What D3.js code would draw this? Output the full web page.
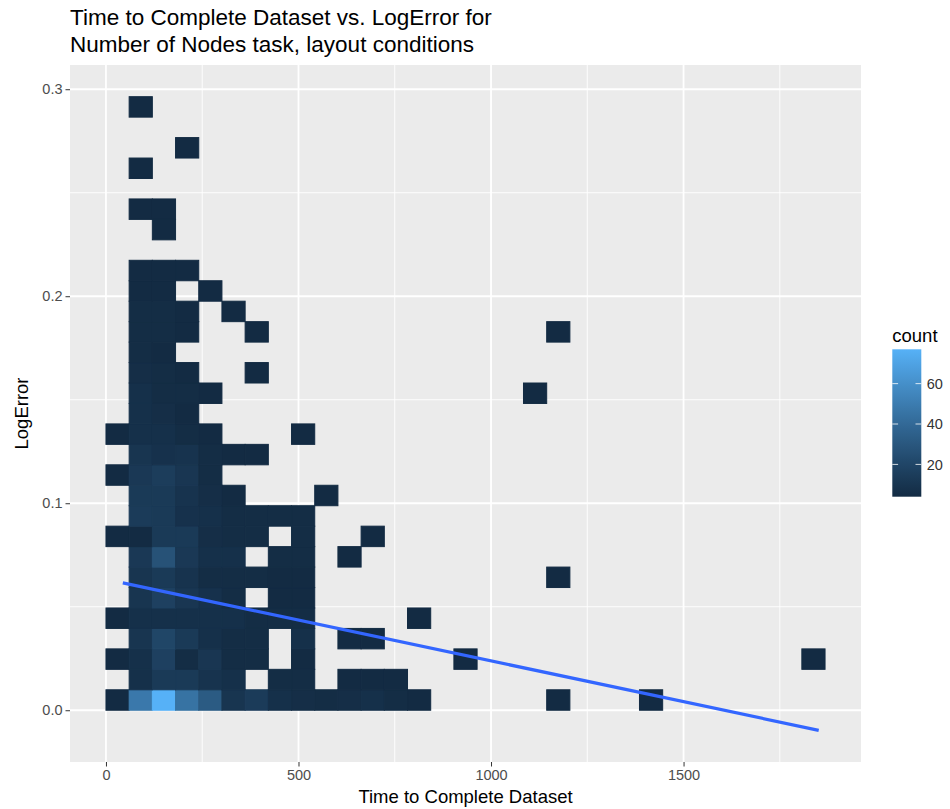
<!DOCTYPE html>
<html>
<head>
<meta charset="utf-8">
<script src="https://cdn.jsdelivr.net/npm/d3@7"></script>
<style>
  html, body { margin: 0; padding: 0; background: #ffffff; }
  svg { display: block; }
  text { font-family: "Liberation Sans", Arial, Helvetica, sans-serif; }
</style>
</head>
<body>
<script>
// ---------------- DATA ----------------
const titleLines = ["Time to Complete Dataset vs. LogError for", "Number of Nodes task, layout conditions"];
const xLabel = "Time to Complete Dataset";
const yLabel = "LogError";
const legendTitle = "count";

// 2D bin geometry (data units)
const binOriginX = 0;
const binWidthX = 60.24;
const binOriginY = 0;
const binWidthY = 0.00988;

// For each y-bin row (index = row from bottom), the occupied x-bin columns and their counts
const rowCols = [
  [0,1,2,3,4,5,6,7,8,9,10,11,12,13,19,23],   // row 0
  [1,2,3,4,5,7,8,10,11,12],                  // row 1
  [0,1,2,3,4,5,6,8,15,30],                   // row 2
  [1,2,3,4,5,6,8,10,11],                     // row 3
  [0,1,2,3,4,5,6,7,8,13],                    // row 4
  [1,2,3,4,5,7,8],                           // row 5
  [1,2,3,4,5,6,7,8,19],                      // row 6
  [1,2,3,4,5,7,8,10],                        // row 7
  [0,1,2,3,4,5,6,8,11],                      // row 8
  [1,2,3,4,5,6,7,8],                         // row 9
  [1,2,3,4,5,9],                             // row 10
  [0,1,2,3,4],                               // row 11
  [1,2,3,4,5,6],                             // row 12
  [0,1,2,3,4,8],                             // row 13
  [1,2,3],                                   // row 14
  [1,2,3,4,18],                              // row 15
  [1,2,3,6],                                 // row 16
  [1,2],                                     // row 17
  [1,2,3,6,19],                              // row 18
  [1,2,3,5],                                 // row 19
  [1,2,4],                                   // row 20
  [1,2,3],                                   // row 21
  [],                                        // row 22
  [2],                                       // row 23
  [1,2],                                     // row 24
  [],                                        // row 25
  [1],                                       // row 26
  [3],                                       // row 27
  [],                                        // row 28
  [1]                                        // row 29
];
const rowCounts = [
  [4,48,77,45,32,10,14,7,6,5,6,7,5,4,4,4],
  [7,13,13,9,7,5,5,4,4,4],
  [4,7,17,5,11,5,5,4,4,4],
  [10,20,13,7,5,5,7,4,4],
  [4,7,7,7,7,7,5,5,5,4],
  [10,17,11,8,5,4,4],
  [10,13,9,5,5,5,4,4,4],
  [12,27,12,7,7,5,5,4],
  [4,4,13,13,6,5,5,5,4],
  [14,13,8,7,5,5,5,5],
  [13,13,9,6,4,4],
  [4,12,15,11,5],
  [10,8,9,5,4,4],
  [4,7,7,5,4,4],
  [7,6,4],
  [7,5,5,4,4],
  [6,5,4,4],
  [5,4],
  [5,5,4,4,4],
  [5,5,4,4],
  [4,4,4],
  [4,4,4],
  [],
  [4],
  [4,4],
  [],
  [4],
  [4],
  [],
  [4]
];

// linear fit (geom_smooth, method = "lm") endpoints
const fitX = [43.8, 1851];
const fitY = [0.0615, -0.0097];

// axis ticks
const xTicks = [0, 500, 1000, 1500];
const xMinor = [250, 750, 1250, 1750];
const yTicks = [0.0, 0.1, 0.2, 0.3];
const yMinor = [0.05, 0.15, 0.25];
const legendTicks = [20, 40, 60];

// ---------------- BUILD ----------------
const W = 950, H = 809;
const panel = { left: 70, right: 861, top: 65, bottom: 762 };

const cells = [];
rowCols.forEach((cols, r) => {
  cols.forEach((c, i) => {
    cells.push({
      x0: binOriginX + c * binWidthX,
      x1: binOriginX + (c + 1) * binWidthX,
      y0: binOriginY + r * binWidthY,
      y1: binOriginY + (r + 1) * binWidthY,
      count: rowCounts[r][i]
    });
  });
});

const xLo = Math.min(d3.min(cells, d => d.x0), d3.min(fitX));
const xHi = Math.max(d3.max(cells, d => d.x1), d3.max(fitX));
const yLo = Math.min(d3.min(cells, d => d.y0), d3.min(fitY));
const yHi = Math.max(d3.max(cells, d => d.y1), d3.max(fitY));
const xPad = (xHi - xLo) * 0.05, yPad = (yHi - yLo) * 0.05;

const x = d3.scaleLinear().domain([xLo - xPad, xHi + xPad]).range([panel.left, panel.right]);
const y = d3.scaleLinear().domain([yLo - yPad, yHi + yPad]).range([panel.bottom, panel.top]);

const cMin = d3.min(cells, d => d.count), cMax = d3.max(cells, d => d.count);
const color = d3.scaleLinear().domain([cMin, cMax]).range(["#132B43", "#56B1F7"]).interpolate(d3.interpolateLab);

const svg = d3.select("body").append("svg").attr("width", W).attr("height", H);

// panel background
svg.append("rect")
  .attr("x", panel.left).attr("y", panel.top)
  .attr("width", panel.right - panel.left).attr("height", panel.bottom - panel.top)
  .attr("fill", "#EBEBEB");

// minor grid
svg.append("g").selectAll("line").data(xMinor).join("line")
  .attr("x1", d => x(d)).attr("x2", d => x(d))
  .attr("y1", panel.top).attr("y2", panel.bottom)
  .attr("stroke", "#ffffff").attr("stroke-width", 0.9);
svg.append("g").selectAll("line").data(yMinor).join("line")
  .attr("y1", d => y(d)).attr("y2", d => y(d))
  .attr("x1", panel.left).attr("x2", panel.right)
  .attr("stroke", "#ffffff").attr("stroke-width", 0.9);
// major grid
svg.append("g").selectAll("line").data(xTicks).join("line")
  .attr("x1", d => x(d)).attr("x2", d => x(d))
  .attr("y1", panel.top).attr("y2", panel.bottom)
  .attr("stroke", "#ffffff").attr("stroke-width", 1.8);
svg.append("g").selectAll("line").data(yTicks).join("line")
  .attr("y1", d => y(d)).attr("y2", d => y(d))
  .attr("x1", panel.left).attr("x2", panel.right)
  .attr("stroke", "#ffffff").attr("stroke-width", 1.8);

// tiles
svg.append("g").selectAll("rect").data(cells).join("rect")
  .attr("x", d => x(d.x0))
  .attr("y", d => y(d.y1))
  .attr("width", d => x(d.x1) - x(d.x0))
  .attr("height", d => y(d.y0) - y(d.y1))
  .attr("fill", d => color(d.count))
  .attr("stroke", d => color(d.count))
  .attr("stroke-width", 1);

// fit line
const line = d3.line().x(d => x(d[0])).y(d => y(d[1]));
svg.append("path")
  .datum(fitX.map((v, i) => [v, fitY[i]]))
  .attr("d", line)
  .attr("fill", "none")
  .attr("stroke", "#3366FF")
  .attr("stroke-width", 3.2);

// axes
const xAxis = svg.append("g").attr("transform", `translate(0,${panel.bottom})`)
  .call(d3.axisBottom(x).tickValues(xTicks).tickFormat(d3.format("d")).tickSize(4.5).tickPadding(3));
const yAxis = svg.append("g").attr("transform", `translate(${panel.left},0)`)
  .call(d3.axisLeft(y).tickValues(yTicks).tickFormat(d3.format(".1f")).tickSize(4.5).tickPadding(3));
[xAxis, yAxis].forEach(g => {
  g.select(".domain").remove();
  g.selectAll(".tick line").attr("stroke", "#333333").attr("stroke-width", 1);
  g.selectAll(".tick text").attr("fill", "#4D4D4D").style("font-size", "14.5px")
    .style("font-family", "'Liberation Sans', Arial, Helvetica, sans-serif");
});

// axis titles
svg.append("text")
  .attr("x", (panel.left + panel.right) / 2).attr("y", 803)
  .attr("text-anchor", "middle").style("font-size", "18.5px").attr("fill", "#000")
  .text(xLabel);
svg.append("text")
  .attr("transform", `translate(28,${(panel.top + panel.bottom) / 2}) rotate(-90)`)
  .attr("text-anchor", "middle").style("font-size", "18.5px").attr("fill", "#000")
  .text(yLabel);

// title
svg.append("g").selectAll("text").data(titleLines).join("text")
  .attr("x", panel.left).attr("y", (d, i) => 25 + i * 26.5)
  .style("font-size", "22.5px").attr("fill", "#000")
  .text(d => d);

// legend
const lg = { x: 892.3, w: 29, top: 349.3, bottom: 496.7 };
const lScale = d3.scaleLinear().domain([cMin, cMax]).range([lg.bottom, lg.top]);
const defs = svg.append("defs");
const grad = defs.append("linearGradient").attr("id", "lgrad")
  .attr("x1", 0).attr("y1", 1).attr("x2", 0).attr("y2", 0);
d3.range(0, 1.0001, 0.05).forEach(t => {
  grad.append("stop").attr("offset", t).attr("stop-color", color(cMin + t * (cMax - cMin)));
});
svg.append("rect")
  .attr("x", lg.x).attr("y", lg.top).attr("width", lg.w).attr("height", lg.bottom - lg.top)
  .attr("fill", "url(#lgrad)");
const lt = svg.append("g");
legendTicks.forEach(v => {
  const yy = lScale(v);
  lt.append("line").attr("x1", lg.x).attr("x2", lg.x + 5.8).attr("y1", yy).attr("y2", yy)
    .attr("stroke", "#ffffff").attr("stroke-width", 1).attr("opacity", 0.8);
  lt.append("line").attr("x1", lg.x + lg.w - 5.8).attr("x2", lg.x + lg.w).attr("y1", yy).attr("y2", yy)
    .attr("stroke", "#ffffff").attr("stroke-width", 1).attr("opacity", 0.8);
  lt.append("text").attr("x", lg.x + lg.w + 5.5).attr("y", yy).attr("dy", "0.36em")
    .style("font-size", "14.5px").attr("fill", "#333333").text(v);
});
svg.append("text").attr("x", lg.x).attr("y", 342)
  .style("font-size", "18.5px").attr("fill", "#000").text(legendTitle);
</script>
</body>
</html>
